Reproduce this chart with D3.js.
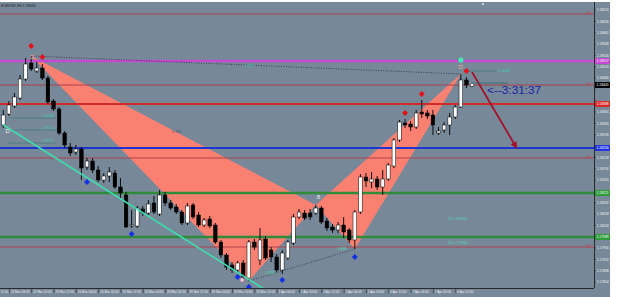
<!DOCTYPE html>
<html><head><meta charset="utf-8">
<script src="https://cdn.jsdelivr.net/npm/d3@7"></script>
<style>html,body{margin:0;padding:0;background:#fff;overflow:hidden}svg{display:block}</style>
</head><body><svg id="c" width="625" height="297"></svg>
<script>
// ---------- DATA ----------
// H4 candles [open, high, low, close]
const candles = [
[1.18325,1.18370,1.18316,1.18355],[1.18358,1.18397,1.18352,1.18385],[1.18382,1.18421,1.18376,1.18409],
[1.18406,1.18475,1.18400,1.18463],[1.18463,1.18526,1.18457,1.18508],[1.18511,1.18532,1.18487,1.18493],
[1.18487,1.18514,1.18481,1.18496],[1.18496,1.18508,1.18460,1.18466],[1.18466,1.18472,1.18388,1.18394],
[1.18397,1.18403,1.18367,1.18373],[1.18373,1.18379,1.18295,1.18301],[1.18301,1.18307,1.18256,1.18265],
[1.18259,1.18271,1.18232,1.18241],[1.18244,1.18265,1.18235,1.18253],[1.18253,1.18259,1.18160,1.18196],
[1.18199,1.18226,1.18190,1.18217],[1.18217,1.18226,1.18181,1.18190],[1.18190,1.18202,1.18154,1.18160],
[1.18160,1.18181,1.18151,1.18172],[1.18172,1.18199,1.18154,1.18184],[1.18181,1.18190,1.18133,1.18139],
[1.18139,1.18166,1.18106,1.18121],[1.18115,1.18124,1.18016,1.18019],[1.18022,1.18070,1.18016,1.18025],
[1.18022,1.18082,1.18016,1.18076],[1.18073,1.18082,1.18052,1.18061],[1.18061,1.18100,1.18055,1.18088],
[1.18091,1.18112,1.18058,1.18064],[1.18058,1.18130,1.18052,1.18115],[1.18115,1.18124,1.18082,1.18091],
[1.18091,1.18100,1.18070,1.18076],[1.18079,1.18088,1.18058,1.18064],[1.18064,1.18070,1.18025,1.18031],
[1.18031,1.18091,1.18025,1.18082],[1.18085,1.18091,1.18043,1.18049],[1.18055,1.18064,1.18019,1.18025],
[1.18025,1.18046,1.18019,1.18040],[1.18043,1.18052,1.18016,1.18022],[1.18025,1.18031,1.17968,1.17974],
[1.17974,1.17980,1.17926,1.17935],[1.17935,1.17941,1.17890,1.17899],[1.17905,1.17914,1.17881,1.17890],
[1.17890,1.17917,1.17881,1.17911],[1.17911,1.17920,1.17863,1.17869],[1.17866,1.17980,1.17857,1.17974],
[1.17974,1.17983,1.17950,1.17959],[1.17920,1.18016,1.17905,1.17980],[1.17983,1.17992,1.17920,1.17926],
[1.17950,1.17959,1.17914,1.17929],[1.17929,1.17938,1.17884,1.17890],[1.17890,1.17950,1.17878,1.17941],
[1.17926,1.17980,1.17920,1.17974],[1.17971,1.18058,1.17965,1.18049],[1.18049,1.18073,1.18043,1.18064],
[1.18061,1.18070,1.18040,1.18046],[1.18061,1.18073,1.18040,1.18049],[1.18061,1.18085,1.18055,1.18076],
[1.18076,1.18082,1.18028,1.18034],[1.18037,1.18046,1.18007,1.18016],[1.18019,1.18028,1.18001,1.18010],
[1.18010,1.18034,1.18001,1.18025],[1.18025,1.18049,1.17986,1.18004],[1.18010,1.18016,1.17971,1.17980],
[1.17980,1.18070,1.17953,1.18064],[1.18064,1.18178,1.18058,1.18169],[1.18169,1.18181,1.18139,1.18157],
[1.18154,1.18184,1.18136,1.18163],[1.18163,1.18172,1.18130,1.18139],[1.18139,1.18190,1.18115,1.18163],
[1.18163,1.18211,1.18157,1.18205],[1.18202,1.18286,1.18196,1.18280],[1.18280,1.18340,1.18274,1.18334],
[1.18331,1.18343,1.18316,1.18325],[1.18328,1.18337,1.18307,1.18319],[1.18319,1.18370,1.18313,1.18361],
[1.18364,1.18400,1.18346,1.18358],[1.18361,1.18370,1.18343,1.18352],[1.18355,1.18370,1.18295,1.18325],
[1.18301,1.18319,1.18295,1.18307],[1.18310,1.18334,1.18301,1.18325],[1.18325,1.18361,1.18295,1.18349],
[1.18349,1.18385,1.18343,1.18379],[1.18379,1.18478,1.18376,1.18460],[1.18460,1.18469,1.18436,1.18445],
[1.18442,1.18451,1.18439,1.18445]
];
const priceTicks = [1.18670,1.18636,1.18602,1.18568,1.18534,1.18500,1.18466,1.18432,1.18398,1.18364,
  1.18330,1.18296,1.18262,1.18228,1.18194,1.18160,1.18126,1.18092,1.18058,1.18024,1.17990,1.17956,
  1.17922,1.17888,1.17854];
const timeLabelIdx = [1,5,9,13,17,21,25,29,33,37,41,45,49,53,57,61,65,69,73,77,81];
const timeLabels = ["22 Mar 04:00","22 Mar 20:00","23 Mar 12:00","24 Mar 04:00","24 Mar 20:00",
  "25 Mar 12:00","26 Mar 04:00","26 Mar 20:00","29 Mar 12:00","30 Mar 04:00","30 Mar 20:00","31 Mar 12:00",
  "1 Apr 04:00","1 Apr 20:00","2 Apr 12:00","5 Apr 04:00","5 Apr 20:00","6 Apr 12:00","7 Apr 04:00",
  "7 Apr 20:00","8 Apr 12:00"];
const firstTimeLabel = "12:00";
// horizontal levels
const levelNames  = ["fibTop","magenta","bid","red","blue","fibMid","green1","green2","fibLow"];
const levelPrices = [1.18658,1.18517,1.18445,1.18388,1.18256,1.18226,1.18121,1.17989,1.17959];
// harmonic pattern X A B C D : [candle index, price]
const patternNames = ["X","A","B","C","D"];
const patternPts = [[5,1.18532],[44,1.17857],[56,1.18085],[63,1.17953],[82,1.18478]];
const trendLine = [[0,1.18325],[47,1.17830]];
const arrowPts = [[84,1.18484],[92,1.18256]];
const redMarks = [[5,1.18562],[7,1.18529],[72,1.18361],[75,1.18418],[83,1.18487]];
const blueMarks = [[15,1.18154],[23,1.17998],[42,1.17869],[44,1.17839],[50,1.17860],[63,1.17929]];
const greenDot = [82,1.18520];
const fibLeft = [1.18346,1.18310,1.18271];
const fibLeftText = ["1.18346","1.18310","1.18271"];
const tpPrices = [1.18040,1.17968];
const tpText = ["55:1.18040","55:1.17968"];
const timerText = "<--3:31:37";
const ratioText = ["0.886","0.786","1.272","1.618"];

// ---------- CHART ----------
const W=625,H=297, plotR=594, plotB=288, axisR=610;
const svg=d3.select("#c");
const font="'Liberation Sans',Arial,sans-serif";
const x=d3.scaleLinear().domain([0,84]).range([3.3,472]);
const y=d3.scaleLinear().domain([1.17836,1.18700]).range([plotB,0]);

svg.append("rect").attr("width",W).attr("height",H).attr("fill","#fff");
svg.append("rect").attr("x",0).attr("y",2).attr("width",axisR).attr("height",H-2).attr("fill","#778899");
const defs=svg.append("defs");
defs.append("clipPath").attr("id","clip").append("rect")
  .attr("x",0).attr("y",2).attr("width",plotR).attr("height",plotB-2);
defs.append("marker").attr("id","arr").attr("viewBox","0 0 10 10").attr("refX",9).attr("refY",5)
  .attr("markerWidth",4).attr("markerHeight",4).attr("orient","auto")
  .append("path").attr("d","M0,0L10,5L0,10z").attr("fill","#a3102a");

const g=svg.append("g").attr("clip-path","url(#clip)");

// triangles
const P=patternPts.map(d=>[x(d[0]),y(d[1])]);
g.append("path").attr("d","M"+P[0]+"L"+P[1]+"L"+P[2]+"Z").attr("fill","#fa8072");
g.append("path").attr("d","M"+P[2]+"L"+P[3]+"L"+P[4]+"Z").attr("fill","#fa8072");

// levels
const lvlStyle={fibTop:["#b0404c",1],magenta:["#c44ad0",2.4],bid:["#a8404a",1],red:["#d02a2a",2],
  blue:["#1f35d2",2.2],fibMid:["#b0404c",1],green1:["#2f8a3a",2.6],green2:["#2f8a3a",2.6],fibLow:["#b0404c",1]};
levelNames.forEach((n,i)=>{
  g.append("line").attr("x1",0).attr("x2",plotR).attr("y1",y(levelPrices[i])).attr("y2",y(levelPrices[i]))
   .attr("stroke",lvlStyle[n][0]).attr("stroke-width",lvlStyle[n][1]);
});
["fibTop","bid","fibMid","fibLow"].forEach(n=>{
  const p=levelPrices[levelNames.indexOf(n)];
  g.append("text").attr("x",591).attr("y",y(p)-0.5).attr("text-anchor","end").attr("font-size",3.5)
   .attr("font-family",font).attr("fill","#c03a4a").text("0.0");
});

// dotted lines X-D and A-C
g.append("line").attr("x1",P[0][0]).attr("y1",P[0][1]).attr("x2",P[4][0]).attr("y2",P[4][1])
 .attr("stroke","#2a3a44").attr("stroke-width",0.9).attr("stroke-dasharray","1,1.5");
g.append("line").attr("x1",P[1][0]).attr("y1",P[1][1]).attr("x2",P[3][0]).attr("y2",P[3][1])
 .attr("stroke","#2a3a44").attr("stroke-width",0.9).attr("stroke-dasharray","1,1.5");

// left fib small lines
fibLeft.forEach((p,i)=>{
  g.append("line").attr("x1",x(0.8)).attr("x2",x(9.5)).attr("y1",y(p)).attr("y2",y(p))
   .attr("stroke","#3f7f7a").attr("stroke-width",0.8);
  g.append("text").attr("x",x(9.2)).attr("y",y(p)-0.6).attr("text-anchor","end").attr("font-size",3.6)
   .attr("font-family",font).attr("fill","#48c8b0").text(fibLeftText[i]);
});

// candles
const cw=3.6;
candles.forEach((c,i)=>{
  const [o,h,l,cl]=c, bull=cl>=o, cx=x(i);
  g.append("line").attr("x1",cx).attr("x2",cx).attr("y1",y(h)).attr("y2",y(l)).attr("stroke","#000").attr("stroke-width",0.9);
  const top=y(Math.max(o,cl)), bh=Math.max(1,Math.abs(y(o)-y(cl)));
  g.append("rect").attr("x",cx-cw/2).attr("y",top).attr("width",cw).attr("height",bh)
   .attr("fill",bull?"#fff":"#000").attr("stroke","#000").attr("stroke-width",0.5);
});

// trendline
g.append("line").attr("x1",x(trendLine[0][0])).attr("y1",y(trendLine[0][1]))
 .attr("x2",x(trendLine[1][0])).attr("y2",y(trendLine[1][1])).attr("stroke","#40dcae").attr("stroke-width",1.6);

// arrow
g.append("line").attr("x1",x(arrowPts[0][0])).attr("y1",y(arrowPts[0][1]))
 .attr("x2",x(arrowPts[1][0])).attr("y2",y(arrowPts[1][1])).attr("stroke","#a3102a").attr("stroke-width",1.7)
 .attr("marker-end","url(#arr)");

// near-D small lines
g.append("line").attr("x1",x(83)).attr("x2",x(88.5)).attr("y1",y(1.18487)).attr("y2",y(1.18487)).attr("stroke","#3f7f7a").attr("stroke-width",0.8);
g.append("line").attr("x1",x(84)).attr("x2",x(90.5)).attr("y1",y(1.18451)).attr("y2",y(1.18451)).attr("stroke","#2f6f6a").attr("stroke-width",0.8);
g.append("text").attr("x",x(88.6)).attr("y",y(1.18487)+1.2).attr("font-size",3.6).attr("font-family",font).attr("fill","#48c8b0").text("1.18487");

// markers
const diamond=d3.symbol().type(d3.symbolDiamond2).size(22);
redMarks.forEach(d=>g.append("path").attr("d",diamond).attr("transform",`translate(${x(d[0])},${y(d[1])})`).attr("fill","#e3121a"));
blueMarks.forEach(d=>g.append("path").attr("d",diamond).attr("transform",`translate(${x(d[0])},${y(d[1])})`).attr("fill","#1330e6"));
g.append("circle").attr("cx",x(greenDot[0])).attr("cy",y(greenDot[1])).attr("r",2.6).attr("fill","#3cf0b4");
g.append("rect").attr("x",x(82)-1.5).attr("y",y(1.18499)-1.5).attr("width",3).attr("height",3).attr("fill","none").attr("stroke","#d99").attr("stroke-width",0.8);
g.append("rect").attr("x",x(5.2)-1.5).attr("y",y(1.18529)-1.5).attr("width",3).attr("height",3).attr("fill","none").attr("stroke","#d99").attr("stroke-width",0.8);
g.append("circle").attr("cx",x(42.8)).attr("cy",y(1.17860)).attr("r",2).attr("fill","#f0d0e0").attr("stroke","#c070a0").attr("stroke-width",0.7);
g.append("circle").attr("cx",x(84)).attr("cy",y(1.18445)).attr("r",1.3).attr("fill","#fff");

// texts
const txt=(i,p,s,opt)=>g.append("text").attr("x",x(i)).attr("y",y(p)).attr("font-family",font)
  .attr("font-size",opt.fs).attr("fill",opt.c).attr("font-weight",opt.w||"normal").attr("text-anchor",opt.a||"start").text(s);
txt(43.3,1.18500,ratioText[0],{fs:3.8,c:"#4bb8a4"});
txt(30.2,1.18300,ratioText[1],{fs:3.8,c:"#555f66"});
txt(46.9,1.17878,ratioText[2],{fs:3.8,c:"#54d0a8",w:"bold"});
txt(59.8,1.17950,ratioText[3],{fs:3.8,c:"#54d0a8",w:"bold"});
txt(56.2,1.18103,"B",{fs:5,c:"#e8e8e8"});
txt(0.4,1.18300,"D",{fs:6,c:"#f0f0f0"});
tpPrices.forEach((p,i)=>txt(79.7,p,tpText[i],{fs:3.8,c:"#4fd8b4"}));
txt(86.7,1.18418,timerText,{fs:11.8,c:"#1a22a6"});

// title
svg.append("text").attr("x",1).attr("y",6.5).attr("font-size",3.6).attr("font-family",font).attr("fill","#1a1a1a").text("EURUSD,H4  1.18445");
svg.append("rect").attr("x",482).attr("y",3).attr("width",2).attr("height",2).attr("fill","#c8d0d8");

// axes
svg.append("line").attr("x1",plotR+0.5).attr("x2",plotR+0.5).attr("y1",2).attr("y2",plotB).attr("stroke","#2a2a2a").attr("stroke-width",1);
svg.append("line").attr("x1",0).attr("x2",plotR).attr("y1",plotB+0.5).attr("y2",plotB+0.5).attr("stroke","#2a2a2a").attr("stroke-width",1);
const boxStyle={magenta:"#c44ad0",bid:"#000",red:"#d92a2a",blue:"#1f35e0",green1:"#2f9a3a",green2:"#2f9a3a"};
const boxYs=Object.keys(boxStyle).map(n=>y(levelPrices[levelNames.indexOf(n)]));
priceTicks.forEach(p=>{
  svg.append("line").attr("x1",plotR).attr("x2",plotR+2).attr("y1",y(p)).attr("y2",y(p)).attr("stroke","#2a2a2a").attr("stroke-width",0.6);
  if (boxYs.some(by=>Math.abs(by-y(p))<5.5)) return;
  svg.append("text").attr("x",plotR+2.5).attr("y",y(p)+1.2).attr("font-size",3.4).attr("font-family",font).attr("fill","#eef0f2").text(p.toFixed(5));
});
Object.keys(boxStyle).forEach(n=>{
  const p=levelPrices[levelNames.indexOf(n)];
  svg.append("rect").attr("x",plotR+1).attr("y",y(p)-3).attr("width",axisR-plotR-1).attr("height",6).attr("fill",boxStyle[n]);
  svg.append("text").attr("x",plotR+2.5).attr("y",y(p)+1.2).attr("font-size",3.4).attr("font-family",font).attr("fill","#fff").text(p.toFixed(5));
});
svg.append("text").attr("x",0.5).attr("y",plotB+4.6).attr("font-size",3.2).attr("font-family",font).attr("fill","#eef0f2").text(firstTimeLabel);
timeLabelIdx.forEach((idx,i)=>{
  svg.append("line").attr("x1",x(idx)+0.5).attr("x2",x(idx)+0.5).attr("y1",plotB).attr("y2",plotB+5).attr("stroke","#2a2a2a").attr("stroke-width",0.6);
  svg.append("text").attr("x",x(idx)+1.8).attr("y",plotB+4.6).attr("font-size",3.2).attr("font-family",font).attr("fill","#eef0f2").text(timeLabels[i]);
});
</script></body></html>
